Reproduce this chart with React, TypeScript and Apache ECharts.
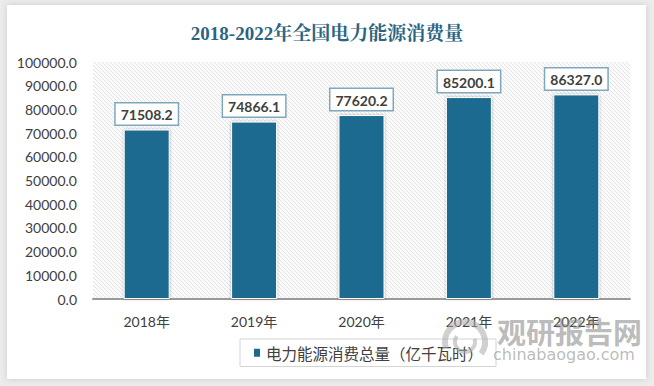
import React, { useEffect, useRef } from "react";
import * as echarts from "echarts";

const categories = ["2018年", "2019年", "2020年", "2021年", "2022年"];
const values = [71508.2, 74866.1, 77620.2, 85200.1, 86327.0];
const seriesName = "电力能源消费总量（亿千瓦时）";
const titleText = "2018-2022年全国电力能源消费量";

function makePattern(): HTMLCanvasElement {
  const c = document.createElement("canvas");
  c.width = 4;
  c.height = 4;
  const ctx = c.getContext("2d")!;
  ctx.fillStyle = "#fbfbfb";
  ctx.fillRect(0, 0, 4, 4);
  ctx.strokeStyle = "#e4e4e4";
  ctx.lineWidth = 1;
  ctx.beginPath();
  ctx.moveTo(0, 0);
  ctx.lineTo(4, 4);
  ctx.stroke();
  return c;
}

export default function App() {
  const ref = useRef<HTMLDivElement>(null);
  useEffect(() => {
    if (!ref.current) return;
    const chart = echarts.init(ref.current, undefined, { renderer: "svg" });
    const font = "Lato, 'Noto Sans CJK SC', sans-serif";
    const wm = "rgba(130,130,130,0.55)";
    chart.setOption({
      animation: false,
      backgroundColor: "#ececec",
      title: {
        text: titleText,
        left: "center",
        top: 19,
        textStyle: {
          fontFamily: "'Liberation Serif', 'Noto Serif CJK SC', 'Noto Sans CJK SC', serif",
          fontSize: 19,
          fontWeight: "bold",
          color: "#2b6481",
        },
      },
      graphic: [
        {
          type: "rect",
          z: -10,
          shape: { x: 7, y: 5, width: 639, height: 374 },
          style: {
            fill: "#ffffff",
            shadowBlur: 6,
            shadowColor: "rgba(0,0,0,0.15)",
          },
        },
        {
          type: "arc",
          z: 100,
          shape: { cx: 465, cy: 342, r: 20, startAngle: Math.PI * 0.9, endAngle: Math.PI * 2.2 },
          style: { stroke: "rgba(170,170,170,0.55)", lineWidth: 6, fill: "none" },
        },
        {
          type: "arc",
          z: 100,
          shape: { cx: 465, cy: 342, r: 10, startAngle: Math.PI * 1.9, endAngle: Math.PI * 3.2 },
          style: { stroke: "rgba(170,170,170,0.55)", lineWidth: 4, fill: "none" },
        },
        {
          type: "text",
          z: 100,
          left: 497,
          top: 316,
          style: {
            text: "观研报告网",
            font: "bold 29px 'Noto Sans CJK SC', sans-serif",
            fill: wm,
          },
        },
        {
          type: "text",
          z: 100,
          left: 493,
          top: 346,
          style: {
            text: "chinabaogao.com",
            font: "16px 'DejaVu Sans', sans-serif",
            fill: wm,
          },
        },
      ],
      grid: {
        left: 93,
        right: 24,
        top: 62,
        bottom: 87,
        show: true,
        borderWidth: 0,
        backgroundColor: { image: makePattern(), repeat: "repeat" } as any,
      },
      legend: {
        data: [seriesName],
        left: 240,
        top: 339,
        padding: [6, 13, 6, 12],
        borderColor: "#d4d4d4",
        borderWidth: 1,
        backgroundColor: "#ffffff",
        icon: "rect",
        itemWidth: 8,
        itemHeight: 10,
        itemGap: 6,
        textStyle: { fontSize: 15.5, color: "#404040", fontFamily: "'Noto Sans CJK SC', sans-serif" },
      },
      xAxis: {
        type: "category",
        data: categories,
        axisLine: { lineStyle: { color: "#9a9a9a", width: 2 } },
        axisTick: { show: false },
        axisLabel: {
          fontSize: 14,
          color: "#404040",
          margin: 15,
          fontFamily: font,
        },
      },
      yAxis: {
        type: "value",
        min: 0,
        max: 100000,
        interval: 10000,
        splitLine: { show: false },
        axisLine: { show: false },
        axisTick: { show: false },
        axisLabel: {
          fontSize: 14,
          color: "#404040",
          margin: 16,
          fontFamily: font,
          formatter: (v: number) => v.toFixed(1),
        },
      },
      series: [
        {
          name: seriesName,
          type: "bar",
          data: values,
          barWidth: 46,
          itemStyle: {
            color: "#1c6b8f",
            borderColor: "#ffffff",
            borderWidth: 1,
            shadowBlur: 3,
            shadowColor: "rgba(0,0,0,0.3)",
          },
          label: {
            show: true,
            position: "top",
            distance: 5,
            formatter: (p: any) => Number(p.value).toFixed(1),
            backgroundColor: "#ffffff",
            borderColor: "#7ea8be",
            borderWidth: 1.5,
            padding: [4, 5, 3, 5],
            fontSize: 14,
            fontWeight: "bold",
            color: "#404040",
            fontFamily: font,
          },
        },
      ],
    });
    return () => chart.dispose();
  }, []);
  return (
    <div
      ref={ref}
      style={{ position: "fixed", left: 0, top: 0, width: 654, height: 386 }}
    />
  );
}
